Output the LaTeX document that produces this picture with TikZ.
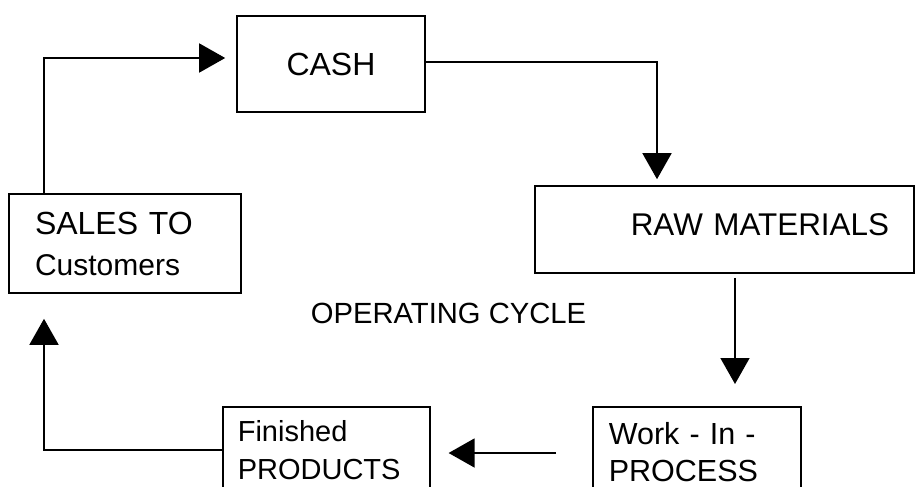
\documentclass[tikz,border=0pt]{standalone}
\usepackage{fontspec}
\setmainfont{Liberation Sans}
\usetikzlibrary{arrows.meta}
\begin{document}
\begin{tikzpicture}[x=1pt,y=-1pt,
  box/.style={draw, line width=1.6pt, rectangle},
  conn/.style={line width=1.6pt},
  arr/.style={conn, -{Triangle[length=26pt,width=29pt]}},
]
\useasboundingbox (0,0) rectangle (916,487);
\clip (0,0) rectangle (916,487);
\node[box, minimum width=188pt, minimum height=96pt, font=\fontsize{32}{38}\selectfont] (cash) at (331,64) {CASH};
\node[box, minimum width=232pt, minimum height=99pt, inner xsep=26pt, text width=180pt, align=left, font=\fontsize{32}{41}\selectfont] (sales) at (125,243.5) {SALES TO\\{\fontsize{30}{41}\selectfont Customers}};
\node[box, minimum width=379pt, minimum height=87pt, inner xsep=25pt, text width=329pt, align=right, text depth=9pt, font=\fontsize{31.4}{38}\selectfont] (raw) at (724.5,229.5) {RAW MATERIALS};
\node[inner sep=0pt, font=\fontsize{29.2}{35}\selectfont] (oc) at (448.5,313) {OPERATING CYCLE};
\node[box, anchor=north west, inner xsep=15pt, inner ysep=14pt, text width=177pt, align=left, font=\fontsize{29}{38}\selectfont] (fin) at (222,406) {Finished\\PRODUCTS};
\node[box, anchor=north west, inner xsep=16pt, inner ysep=16pt, text width=176pt, align=left, font=\fontsize{30.5}{37}\selectfont] (wip) at (592,406) {Work - In -\\PROCESS};
\coordinate (c1) at (44,58);
\coordinate (c2) at (657,62);
\coordinate (c3) at (735,0);
\coordinate (c4) at (0,453);
\coordinate (c5) at (44,450);
\draw[arr, shorten >=11pt] (sales.north -| c1) -- (c1) -- (cash.west |- c1);
\draw[arr, shorten >=6pt] (cash.east |- c2) -- (c2) -- (raw.north -| c2);
\draw[arr, shorten <=4pt, shorten >=22pt] (raw.south -| c3) -- (wip.north -| c3);
\draw[arr, shorten <=36pt, shorten >=18pt] (wip.west |- c4) -- (fin.east |- c4);
\draw[arr, shorten >=25pt] (fin.west |- c5) -- (c5) -- (sales.south -| c5);
\end{tikzpicture}
\end{document}
